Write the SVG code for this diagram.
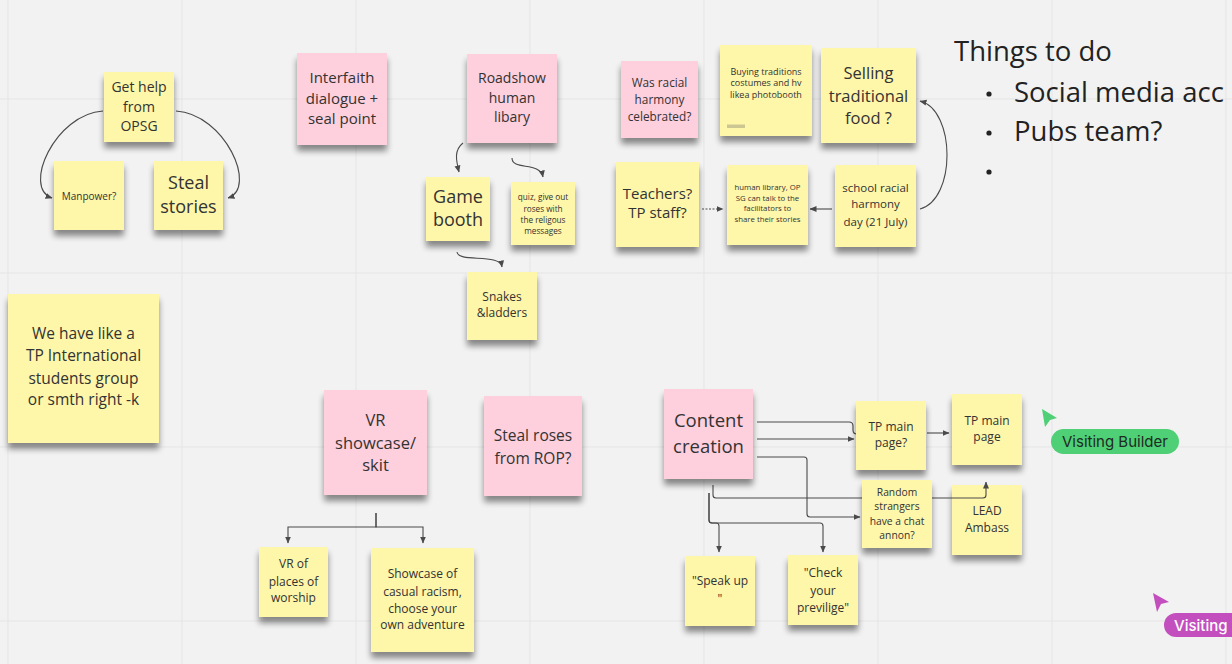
<svg xmlns="http://www.w3.org/2000/svg" width="1232" height="664" viewBox="0 0 1232 664">
<style>
.y{fill:#fef6a9}
.p{fill:#fecfdc}
.n{filter:url(#sh)}
text{font-family:"Open Sans","Noto Sans","Liberation Sans",sans-serif;fill:#333;text-anchor:middle}
.c{fill:none;stroke:#4a4a4a;stroke-width:1.1}
.a{marker-end:url(#ar)}
.g{stroke:#e5e5e5;stroke-width:1}
</style>
<defs>
<marker id="ar" viewBox="0 0 7 7" refX="6.5" refY="3.5" markerWidth="7" markerHeight="7" markerUnits="userSpaceOnUse" orient="auto">
<path d="M0,0.5 L7,3.5 L0,6.5 z" fill="#4a4a4a"/>
</marker>
<filter id="sh" x="-20%" y="-20%" width="140%" height="150%">
<feGaussianBlur in="SourceAlpha" stdDeviation="3"/>
<feOffset dx="0" dy="6" result="b"/>
<feComponentTransfer><feFuncA type="linear" slope="0.45"/></feComponentTransfer>
<feMerge><feMergeNode/><feMergeNode in="SourceGraphic"/></feMerge>
</filter>
</defs>
<rect width="1232" height="664" fill="#f2f2f2"/>
<g id="grid">
<path class="g" d="M8,0V664M182,0V664M356,0V664M530,0V664M704,0V664M878,0V664M1052,0V664M1226,0V664M0,99H1232M0,273H1232M0,447H1232M0,621H1232"/>
</g>

<g id="n-lead"><rect class="y n" x="952" y="485" width="70" height="70"/><text font-size="12"><tspan x="987" y="515">LEAD</tspan><tspan x="987" y="532">Ambass</tspan></text></g>

<g id="connectors">
<path class="c a" d="M103,111 C55,114 22,188 52,198"/>
<path class="c a" d="M176,111 C225,114 258,188 228,198"/>
<path class="c a" d="M463,143 C454,150 456,160 459,172"/>
<path class="c a" d="M512,158 C512,171 540,161 543,177"/>
<path class="c a" d="M457,252 C458,263 500,253 502,267"/>
<path class="c a" d="M702,209 L723,209" stroke-dasharray="2,1.5"/>
<path class="c a" d="M832,209 L810,209"/>
<path class="c a" d="M920,209 C956,200 956,110 920,101"/>
<path class="c a" d="M376,513 V527 H288 V543"/>
<path class="c a" d="M376,513 V527 H423 V543"/>
<path class="c" d="M757,422 H849 Q853,422 853,426 V430 Q853,434 857,434"/>
<path class="c a" d="M757,439 H854"/>
<path class="c a" d="M757,457 H804 Q807,457 807,460 V514 Q807,517 810,517 H860"/>
<path class="c a" d="M713,485 V495 Q713,498 716,498 H983 Q986,498 986,495 V482"/>
<path class="c a" d="M709,493 V520 Q709,523 712,523 H716 Q719,523 719,526 V552"/>
<path class="c a" d="M709,493 V520 Q709,523 712,523 H820 Q823,523 823,526 V552"/>
<path class="c a" d="M927,433 H949"/>
</g>

<g id="n-gethelp"><rect class="y n" x="104" y="72" width="70" height="70"/><text font-size="14"><tspan x="139" y="92">Get help</tspan><tspan x="139" y="112">from</tspan><tspan x="139" y="131">OPSG</tspan></text></g>
<g id="n-manpower"><rect class="y n" x="54" y="161" width="70" height="69"/><text font-size="10" x="89" y="199.5">Manpower?</text></g>
<g id="n-steal-stories"><rect class="y n" x="154" y="161" width="69" height="69"/><text font-size="18"><tspan x="188.5" y="189">Steal</tspan><tspan x="188.5" y="213">stories</tspan></text></g>
<g id="n-interfaith"><rect class="p n" x="297" y="53" width="90" height="92"/><text font-size="15"><tspan x="342" y="83">Interfaith</tspan><tspan x="342" y="104">dialogue +</tspan><tspan x="342" y="124">seal point</tspan></text></g>
<g id="n-roadshow"><rect class="p n" x="467" y="54" width="90" height="89"/><text font-size="14"><tspan x="512" y="83">Roadshow</tspan><tspan x="512" y="103">human</tspan><tspan x="512" y="122">libary</tspan></text></g>
<g id="n-game"><rect class="y n" x="426" y="177" width="64" height="64"/><text font-size="18"><tspan x="458" y="203">Game</tspan><tspan x="458" y="226">booth</tspan></text></g>
<g id="n-quiz"><rect class="y n" x="511" y="182" width="64" height="63"/><text font-size="8.2"><tspan x="543" y="200">quiz, give out</tspan><tspan x="543" y="211.5">roses with</tspan><tspan x="543" y="222.5">the religous</tspan><tspan x="543" y="233.5">messages</tspan></text></g>
<g id="n-snakes"><rect class="y n" x="467" y="272" width="70" height="68"/><text font-size="12"><tspan x="502" y="301">Snakes</tspan><tspan x="502" y="317">&amp;ladders</tspan></text></g>
<g id="n-wasracial"><rect class="p n" x="621" y="61" width="77" height="77"/><text font-size="11.8"><tspan x="659.5" y="87">Was racial</tspan><tspan x="659.5" y="104">harmony</tspan><tspan x="659.5" y="121">celebrated?</tspan></text></g>
<g id="n-buying"><rect class="y n" x="720" y="45" width="92" height="91"/><text font-size="9"><tspan x="766" y="75">Buying traditions</tspan><tspan x="766" y="86">costumes and hv</tspan><tspan x="766" y="98">likea photobooth</tspan></text><rect x="727" y="124.5" width="18" height="3.5" fill="#cbc692"/></g>
<g id="n-selling"><rect class="y n" x="821" y="48" width="95" height="95"/><text font-size="16.5"><tspan x="868.5" y="79">Selling</tspan><tspan x="868.5" y="102">traditional</tspan><tspan x="868.5" y="124">food ?</tspan></text></g>
<g id="n-teachers"><rect class="y n" x="616" y="162" width="83" height="85"/><text font-size="15"><tspan x="657.5" y="199">Teachers?</tspan><tspan x="657.5" y="218">TP staff?</tspan></text></g>
<g id="n-humanlib"><rect class="y n" x="727" y="165" width="81" height="80"/><text font-size="7.8"><tspan x="767.5" y="190">human library, OP</tspan><tspan x="767.5" y="201">SG can talk to the</tspan><tspan x="767.5" y="211">facilitators to</tspan><tspan x="767.5" y="222">share their stories</tspan></text></g>
<g id="n-school"><rect class="y n" x="835" y="165" width="81" height="82"/><text font-size="11.5"><tspan x="875.5" y="192">school racial</tspan><tspan x="875.5" y="208">harmony</tspan><tspan x="875.5" y="226">day (21 July)</tspan></text></g>
<g id="n-wehave"><rect class="y n" x="8" y="294" width="151" height="149"/><text font-size="15.5"><tspan x="83.5" y="338.5">We have like a</tspan><tspan x="83.5" y="360.5">TP International</tspan><tspan x="83.5" y="383.5">students group</tspan><tspan x="83.5" y="404.5">or smth right -k</tspan></text></g>
<g id="n-vr"><rect class="p n" x="324" y="390" width="103" height="105"/><text font-size="16.5"><tspan x="375.5" y="426">VR</tspan><tspan x="375.5" y="449">showcase/</tspan><tspan x="375.5" y="471">skit</tspan></text></g>
<g id="n-roses"><rect class="p n" x="484" y="396" width="98" height="100"/><text font-size="15.5"><tspan x="533" y="440.5">Steal roses</tspan><tspan x="533" y="463.5">from ROP?</tspan></text></g>
<g id="n-vrof"><rect class="y n" x="259" y="547" width="69" height="70"/><text font-size="12"><tspan x="293.5" y="568">VR of</tspan><tspan x="293.5" y="586">places of</tspan><tspan x="293.5" y="602">worship</tspan></text></g>
<g id="n-showcase"><rect class="y n" x="371" y="548" width="103" height="104"/><text font-size="12"><tspan x="422.5" y="578">Showcase of</tspan><tspan x="422.5" y="596">casual racism,</tspan><tspan x="422.5" y="613">choose your</tspan><tspan x="422.5" y="629">own adventure</tspan></text></g>
<g id="n-content"><rect class="p n" x="664" y="389" width="89" height="90"/><text font-size="18.5"><tspan x="708.5" y="427">Content</tspan><tspan x="708.5" y="453">creation</tspan></text></g>
<g id="n-tpq"><rect class="y n" x="856" y="401" width="70" height="69"/><text font-size="12"><tspan x="891" y="431">TP main</tspan><tspan x="891" y="447">page?</tspan></text></g>
<g id="n-tp"><rect class="y n" x="952" y="394" width="70" height="71"/><text font-size="12"><tspan x="987" y="425">TP main</tspan><tspan x="987" y="441">page</tspan></text></g>
<g id="n-random"><rect class="y n" x="862" y="480" width="70" height="68"/><text font-size="10.3"><tspan x="897" y="496">Random</tspan><tspan x="897" y="510">strangers</tspan><tspan x="897" y="525">have a chat</tspan><tspan x="897" y="539">annon?</tspan></text></g>
<g id="n-speak"><rect class="y n" x="685" y="556" width="70" height="70"/><text font-size="12"><tspan x="720" y="585">"Speak up</tspan><tspan x="720" y="603">"</tspan></text></g>
<g id="n-check"><rect class="y n" x="788" y="555" width="70" height="70"/><text font-size="12"><tspan x="823" y="577">"Check</tspan><tspan x="823" y="595">your</tspan><tspan x="823" y="612">previlige"</tspan></text></g>

<g id="todo">
<text font-size="27.5" x="954" y="61" style="text-anchor:start;fill:#222">Things to do</text>
<circle cx="989" cy="94" r="2.6" fill="#222"/>
<circle cx="989" cy="133" r="2.6" fill="#222"/>
<circle cx="989" cy="172" r="2.6" fill="#222"/>
<text font-size="27.5" x="1014" y="102" style="text-anchor:start;fill:#222">Social media acc</text>
<text font-size="27.5" x="1014" y="141" style="text-anchor:start;fill:#222">Pubs team?</text>
</g>

<g id="cursor-green">
<polygon points="1042,409 1057,418 1050,420 1045,427" fill="#4fcf76"/>
<rect x="1051" y="429" width="128" height="25" rx="12.5" fill="#4fcf76"/>
<text font-size="15" x="1062" y="447" style="text-anchor:start;fill:#1d2b22;font-family:Inter,'Liberation Sans',sans-serif">Visiting Builder</text>
</g>
<g id="cursor-purple">
<polygon points="1153,593 1169,602 1161,604 1157,612" fill="#c34fbf"/>
<rect x="1164" y="613" width="110" height="24" rx="12" fill="#c34fbf"/>
<text font-size="15" x="1174" y="631" style="text-anchor:start;fill:#fff;font-weight:500;font-family:Inter,'Liberation Sans',sans-serif">Visiting</text>
</g>
</svg>
